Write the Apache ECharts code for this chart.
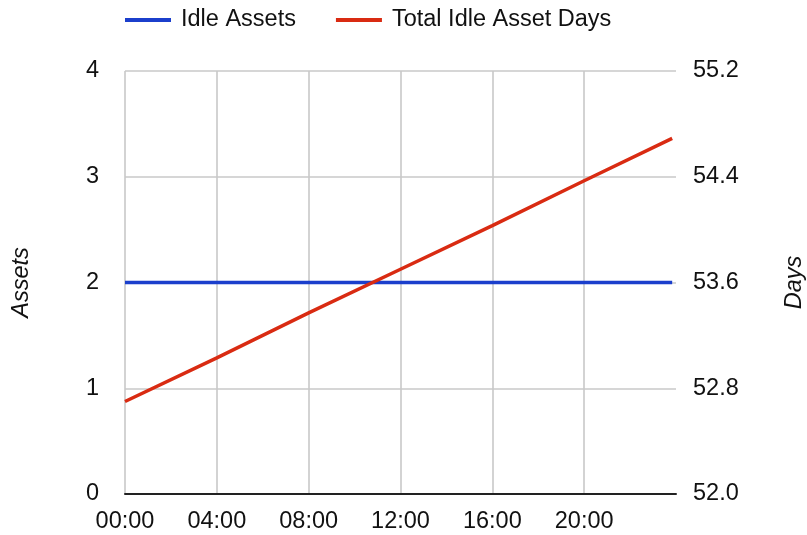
<!DOCTYPE html>
<html>
<head>
<meta charset="utf-8">
<script src="https://cdn.jsdelivr.net/npm/echarts@6/dist/echarts.min.js"></script>
<style>html,body{margin:0;padding:0;background:#fff}#c{width:807px;height:535px}</style>
</head>
<body>
<div id="c"></div>
<script>
// time of day in minutes since 00:00
const times = [0, 240, 480, 720, 960, 1200, 1430];
const idleAssets = [2, 2, 2, 2, 2, 2, 2];
const totalIdleAssetDays = [52.70, 53.03, 53.37, 53.70, 54.03, 54.37, 54.69];
const seriesNames = ['Idle Assets', 'Total Idle Asset Days'];
const leftAxisName = 'Assets';
const rightAxisName = 'Days';

function hhmm(v) {
  const h = Math.floor(v / 60), m = Math.round(v % 60);
  return String(h).padStart(2, '0') + ':' + String(m).padStart(2, '0');
}
const font = 'Liberation Sans, Arial, Helvetica, sans-serif';
const fs = 23.5;
const chart = echarts.init(document.getElementById('c'), null, {renderer: 'canvas'});
chart.setOption({
  animation: false,
  textStyle: {fontFamily: font},
  legend: {
    left: 120, top: 3, padding: [5, 5, 5, 5],
    itemWidth: 46, itemHeight: 4, itemGap: 40,
    icon: 'rect',
    textStyle: {fontSize: fs, color: '#111', fontFamily: font, padding: [0, 0, 0, 5]},
    data: seriesNames
  },
  grid: {left: 125, right: 131, top: 71, bottom: 41, containLabel: false, outerBoundsMode: 'none'},
  xAxis: {
    type: 'value', min: 0, max: 1440, interval: 240,
    axisLine: {show: true, onZero: false, lineStyle: {color: '#222', width: 2}},
    axisTick: {show: false},
    axisLabel: {formatter: hhmm, fontSize: fs, color: '#111', margin: 16, showMaxLabel: false, fontFamily: font},
    splitLine: {show: true, showMaxLine: false, lineStyle: {color: '#c8c8c8', width: 1.6}},
    boundaryGap: false
  },
  yAxis: [{
    type: 'value', min: 0, max: 4, interval: 1,
    name: leftAxisName, nameLocation: 'middle', nameGap: 92, nameRotate: 90,
    nameTextStyle: {fontSize: fs, fontStyle: 'italic', color: '#111', fontFamily: font},
    axisLine: {show: false}, axisTick: {show: false},
    axisLabel: {fontSize: fs, color: '#111', margin: 26, fontFamily: font, padding: [4, 0, 0, 0]},
    splitLine: {show: true, lineStyle: {color: '#c8c8c8', width: 1.6}}
  }, {
    type: 'value', min: 52, max: 55.2, interval: 0.8,
    name: rightAxisName, nameLocation: 'middle', nameGap: 107, nameRotate: 90,
    nameTextStyle: {fontSize: fs, fontStyle: 'italic', color: '#111', fontFamily: font},
    axisLine: {show: false}, axisTick: {show: false},
    axisLabel: {fontSize: fs, color: '#111', margin: 17, formatter: v => v.toFixed(1), fontFamily: font, padding: [4, 0, 0, 0]},
    splitLine: {show: false}
  }],
  series: [{
    name: seriesNames[0], type: 'line', yAxisIndex: 0,
    data: times.map((t, i) => [t, idleAssets[i]]),
    showSymbol: false, symbol: 'none',
    lineStyle: {color: '#1b3fcc', width: 3.5}, itemStyle: {color: '#1b3fcc'}, z: 2
  }, {
    name: seriesNames[1], type: 'line', yAxisIndex: 1,
    data: times.map((t, i) => [t, totalIdleAssetDays[i]]),
    showSymbol: false, symbol: 'none',
    lineStyle: {color: '#d92b12', width: 3.5}, itemStyle: {color: '#d92b12'}, z: 3
  }]
});
</script>
</body>
</html>
